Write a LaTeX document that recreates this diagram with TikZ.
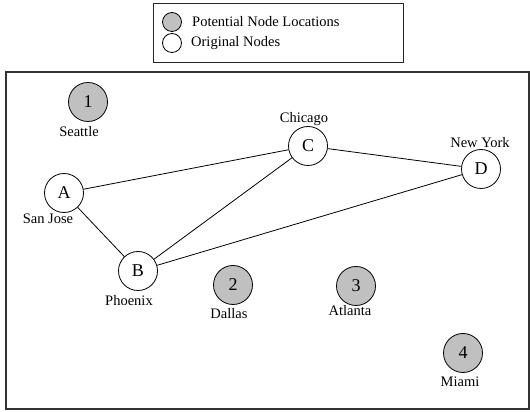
\documentclass[tikz,border=0pt]{standalone}
\usepackage{fontspec}
\setmainfont{Liberation Serif}
\usepackage{tikz}
\usetikzlibrary{positioning}
\definecolor{sitegray}{RGB}{192,192,192}
\tikzset{
  city/.style={
    shape = circle,
    draw,
    line width = 0.8pt,
    fill = white,
    minimum size = 39pt,
    inner sep = 0pt,
    font = \fontsize{18}{20}\selectfont
  },
  site/.style={
    city,
    fill = sitegray
  },
  place/.style={
    font = \fontsize{14.5}{16}\selectfont,
    inner sep = 0pt
  },
  keydot/.style={
    shape = circle,
    draw,
    line width = 0.8pt,
    minimum size = 19pt,
    inner sep = 0pt
  },
  link/.style={
    line width = 0.8pt
  }
}

\begin{document}
\begin{tikzpicture}[x=1pt,y=1pt]
    \useasboundingbox (0,0) rectangle (530,412);
    % legend
    \draw[line width=1pt, black!85] (153,408) rectangle (403,349);
    \node[keydot, fill=sitegray] (keysite) at (172,390) {};
    \node[keydot, fill=white] (keycity) at (172,369) {};
    \node[place, anchor=west] (keysitetext) at (192,390) {Potential Node Locations};
    \node[place, anchor=west] (keycitytext) at (191,369) {Original Nodes};

    % map frame
    \draw[line width=1.5pt, black!80] (6,340) rectangle (529,3);

    % original nodes
    \node[city] (A) at (64,219) {A};
    \node[city] (B) at (138,141) {B};
    \node[city] (C) at (308,266) {C};
    \node[city] (D) at (481,243) {D};
    \node[place] (sanjose) at (48,193) {San Jose};
    \node[place] (phoenix) at (129,111) {Phoenix};
    \node[place] (chicago) at (304,293) {Chicago};
    \node[place] (newyork) at (480,269) {New York};

    % candidate sites
    \node[site] (s1) at (88,310) {1};
    \node[site] (s2) at (233,127) {2};
    \node[site] (s3) at (356,126) {3};
    \node[site] (s4) at (463,59) {4};
    \node[place] (seattle) at (79,280) {Seattle};
    \node[place] (dallas) at (229,98) {Dallas};
    \node[place] (atlanta) at (350,101) {Atlanta};
    \node[place] (miami) at (460,30) {Miami};

    % links
    \draw[link] (A) -- (C);
    \draw[link] (A) -- (B);
    \draw[link] (B) -- (C);
    \draw[link] (B) -- (D);
    \draw[link] (C) -- (D);
\end{tikzpicture}
\end{document}
